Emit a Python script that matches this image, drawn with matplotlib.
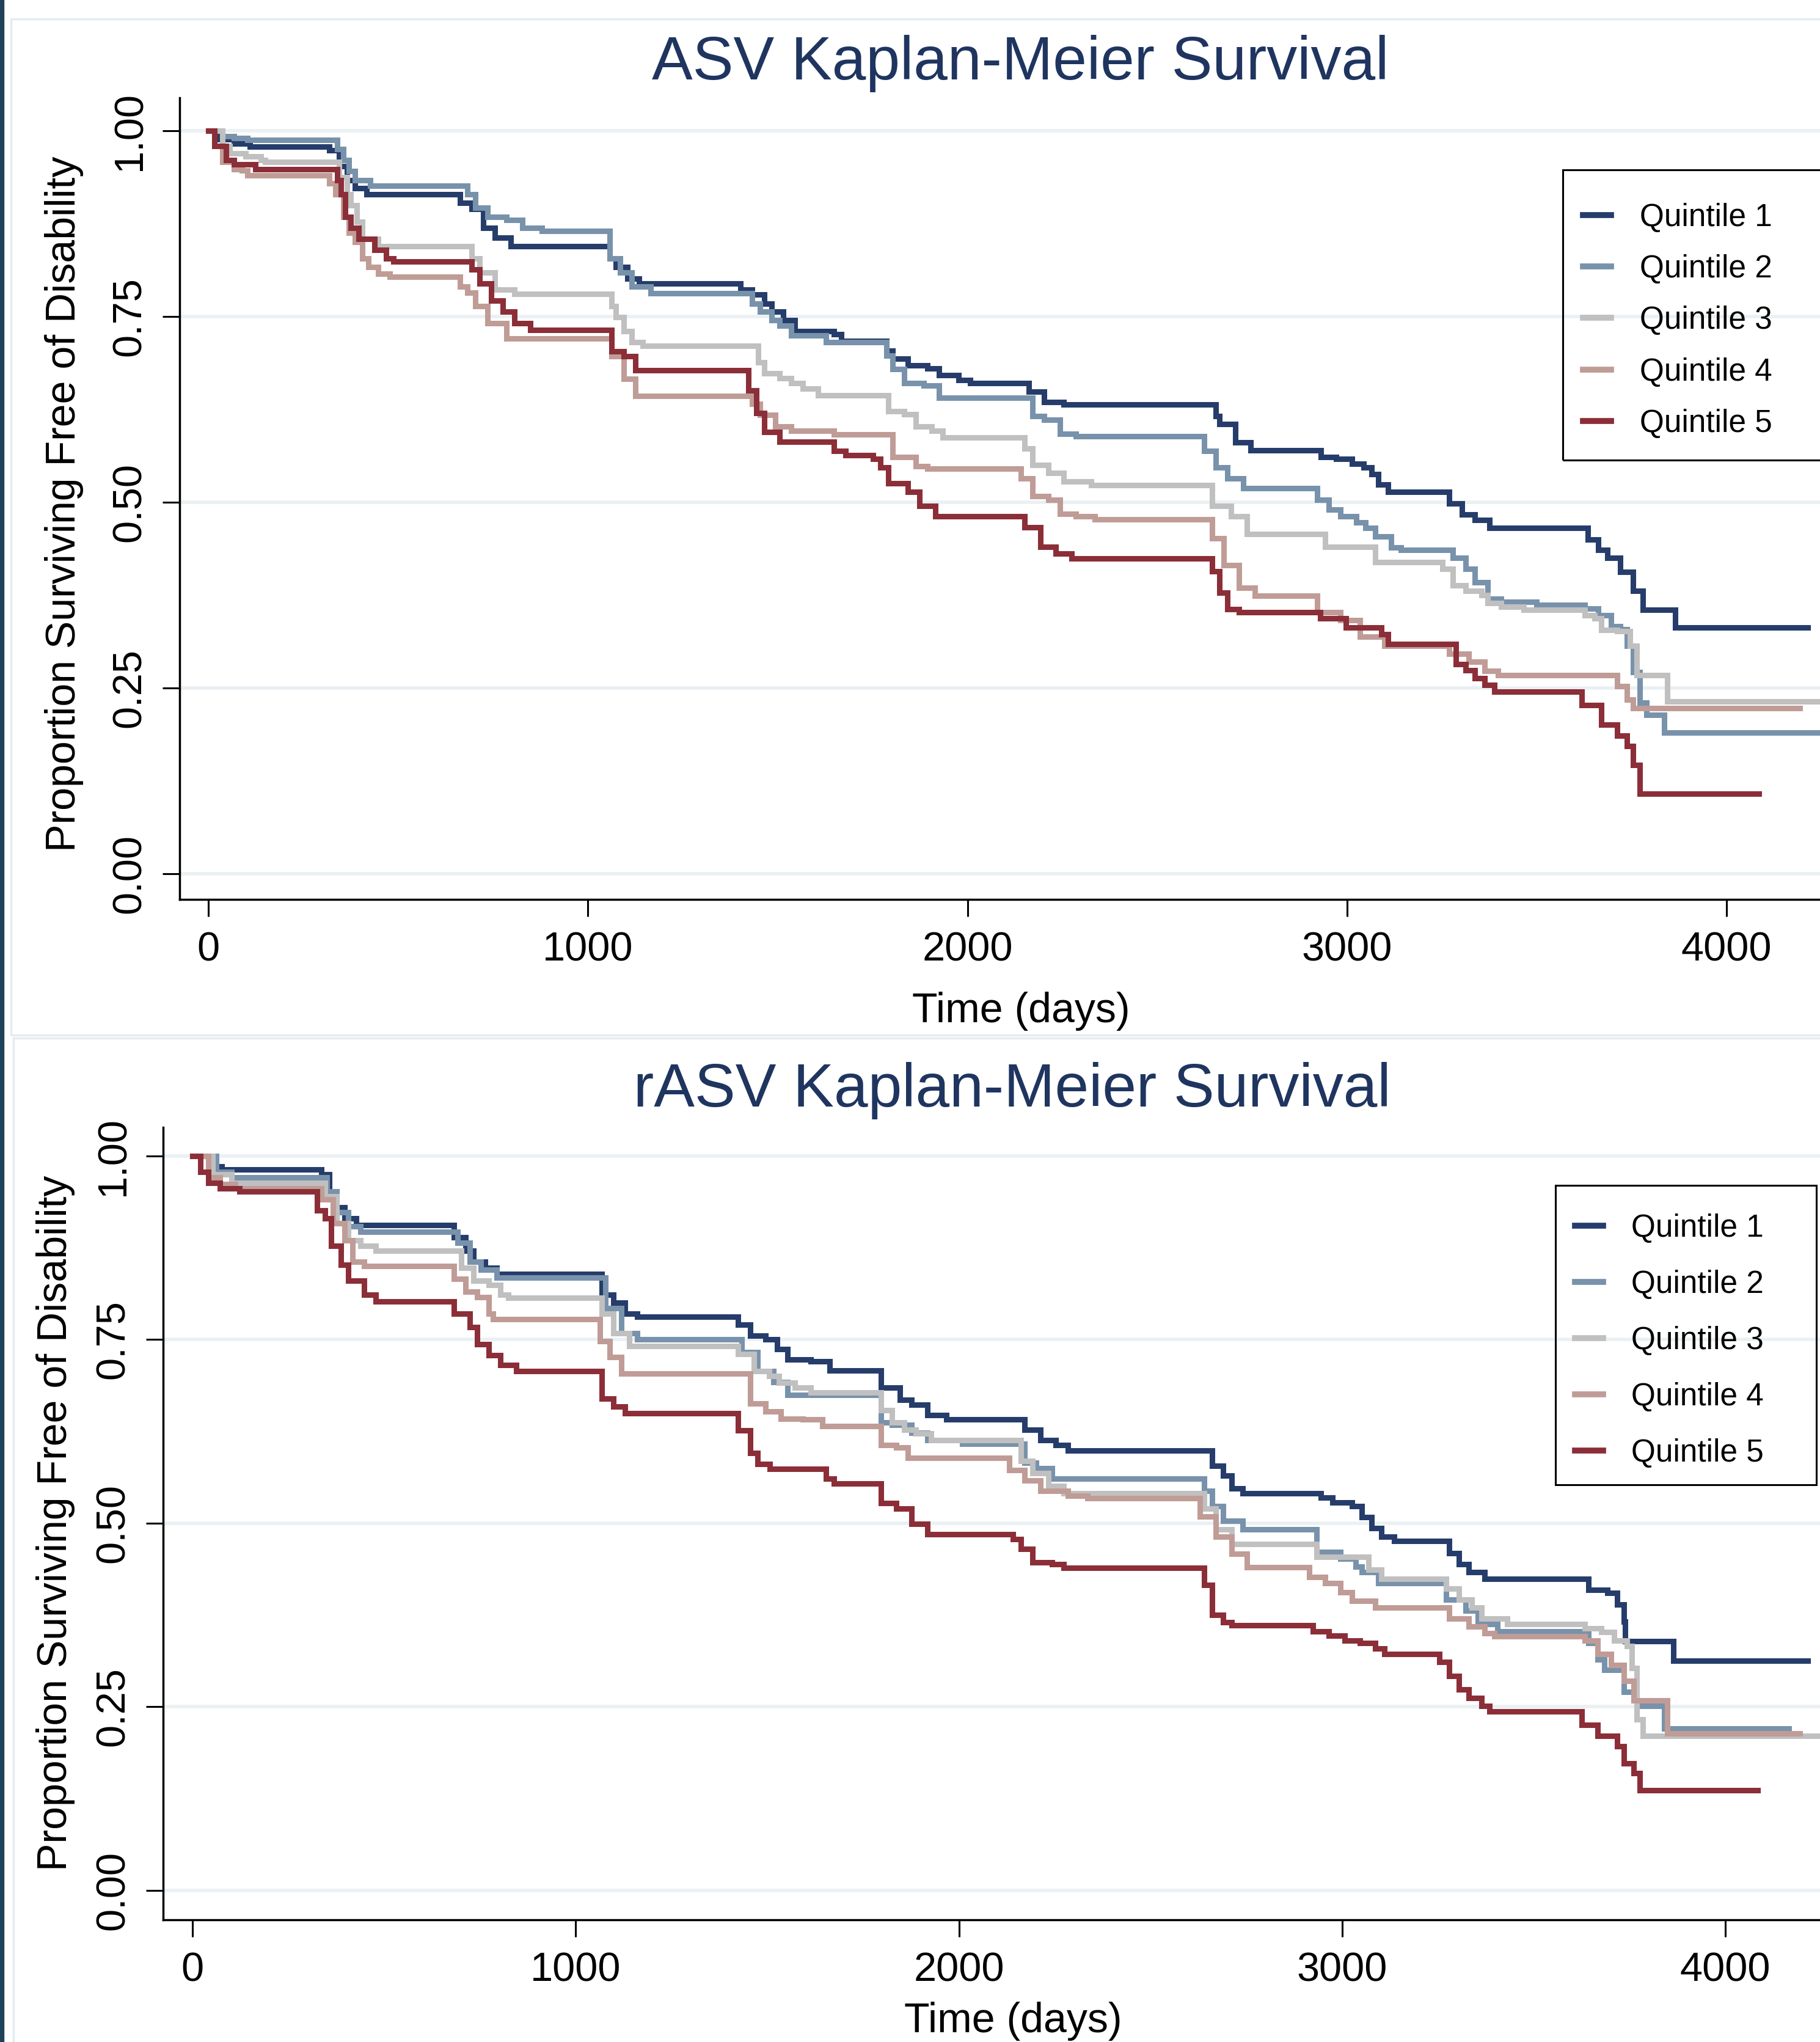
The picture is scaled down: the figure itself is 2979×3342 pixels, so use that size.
import matplotlib
matplotlib.use("Agg")
import matplotlib.pyplot as plt
from matplotlib.patches import Rectangle

plt.rcParams['font.family'] = ['Liberation Sans', 'DejaVu Sans']

# ---------------- data ----------------
quintile_labels = ["Quintile 1", "Quintile 2", "Quintile 3", "Quintile 4", "Quintile 5"]
x_ticks = [0, 1000, 2000, 3000, 4000]
y_ticks = [0.00, 0.25, 0.50, 0.75, 1.00]
y_tick_labels = ["0.00", "0.25", "0.50", "0.75", "1.00"]

# ASV panel
asv_q1_t = [0, 26, 67, 109, 319, 345, 365, 386, 417, 663, 694, 725, 755, 796, 1058, 1074, 1104, 1135,
            1402, 1433, 1464, 1484, 1515, 1545, 1648, 1668, 1787, 1802, 1843, 1894, 1925, 1977, 2007,
            2161, 2202, 2254, 2654, 2664, 2705, 2746, 2931, 2972, 3013, 3044, 3065, 3082, 3108,
            3269, 3303, 3337, 3376, 3635, 3661, 3686, 3720, 3754, 3780, 3865, 4214]
asv_q1_s = [1.0, 0.988, 0.982, 0.978, 0.973, 0.952, 0.933, 0.922, 0.914, 0.903, 0.894, 0.869, 0.856, 0.844,
            0.828, 0.816, 0.801, 0.794, 0.786, 0.779, 0.767, 0.756, 0.745, 0.730, 0.726, 0.717,
            0.704, 0.693, 0.684, 0.680, 0.671, 0.664, 0.660, 0.649, 0.635, 0.631, 0.616, 0.605, 0.580, 0.570,
            0.561, 0.558, 0.552, 0.547, 0.538, 0.524, 0.514, 0.498, 0.483, 0.476, 0.465,
            0.450, 0.436, 0.425, 0.406, 0.381, 0.355, 0.331, 0.331]

asv_q2_t = [0, 37, 67, 103, 340, 355, 370, 386, 427, 683, 704, 735, 786, 827, 878, 1058, 1084, 1115, 1166,
            1433, 1453, 1484, 1505, 1535, 1627, 1787, 1802, 1833, 1884, 1925, 2172, 2202, 2243, 2285,
            2623, 2654, 2685, 2726, 2921, 2952, 2983, 3024, 3048, 3074, 3116, 3142,
            3278, 3312, 3337, 3371, 3406, 3499, 3627, 3661, 3695, 3720, 3737, 3754, 3771, 3789, 3835, 4300]
asv_q2_s = [1.0, 0.992, 0.990, 0.987, 0.975, 0.960, 0.945, 0.933, 0.926, 0.914, 0.896, 0.884, 0.880, 0.869, 0.865,
            0.828, 0.809, 0.790, 0.781, 0.767, 0.756, 0.745, 0.737, 0.724, 0.715, 0.697, 0.679, 0.660, 0.657, 0.640,
            0.616, 0.611, 0.592, 0.589, 0.569, 0.547, 0.532, 0.519, 0.503, 0.490, 0.481, 0.473, 0.465, 0.454,
            0.439, 0.436, 0.425, 0.410, 0.392, 0.370, 0.366, 0.362, 0.357, 0.348, 0.333, 0.329, 0.307, 0.271,
            0.230, 0.214, 0.190, 0.190]

asv_q3_t = [0, 37, 57, 98, 139, 150, 345, 365, 375, 391, 406, 447, 694, 714, 755, 807, 1063, 1074, 1094, 1115,
            1145, 1448, 1464, 1505, 1535, 1566, 1607, 1792, 1833, 1864, 1905, 1935, 2151, 2172, 2213, 2254, 2326,
            2644, 2695, 2736, 2942, 3074, 3252, 3278, 3312, 3354, 3371, 3406, 3465,
            3627, 3652, 3669, 3712, 3746, 3763, 3844, 4300]
asv_q3_s = [1.0, 0.979, 0.969, 0.965, 0.960, 0.958, 0.937, 0.914, 0.899, 0.877, 0.854, 0.844, 0.828, 0.809, 0.786,
            0.780, 0.764, 0.749, 0.730, 0.715, 0.710, 0.688, 0.673, 0.667, 0.660, 0.653, 0.644, 0.622, 0.618,
            0.602, 0.596, 0.587, 0.572, 0.550, 0.539, 0.528, 0.523, 0.495, 0.481, 0.457, 0.440, 0.419,
            0.410, 0.388, 0.381, 0.375, 0.364, 0.359, 0.355, 0.348, 0.344, 0.328, 0.326, 0.307, 0.267, 0.232, 0.232]

asv_q4_t = [0, 16, 37, 67, 88, 103, 319, 334, 355, 370, 386, 406, 422, 447, 478, 663, 683, 704, 735, 786,
            1063, 1094, 1125, 1433, 1453, 1494, 1535, 1648, 1802, 1864, 1894, 2141, 2172, 2213, 2243, 2285, 2336,
            2644, 2675, 2716, 2757, 2921, 2983, 3034, 3099, 3269, 3320, 3363, 3397, 3712, 3737, 3754, 4193]
asv_q4_s = [1.0, 0.979, 0.958, 0.948, 0.946, 0.940, 0.929, 0.914, 0.884, 0.862, 0.850, 0.828, 0.816, 0.807, 0.803,
            0.790, 0.782, 0.764, 0.741, 0.720, 0.696, 0.666, 0.643, 0.632, 0.617, 0.602, 0.596, 0.591,
            0.561, 0.548, 0.545, 0.532, 0.508, 0.503, 0.484, 0.481, 0.477, 0.451, 0.415, 0.385, 0.374,
            0.352, 0.341, 0.319, 0.307, 0.296, 0.285, 0.273, 0.267, 0.252, 0.234, 0.223, 0.223]

asv_q5_t = [0, 16, 47, 67, 124, 340, 350, 360, 375, 396, 437, 468, 488, 694, 714, 745, 776, 807, 848,
            1063, 1094, 1125, 1423, 1443, 1464, 1505, 1648, 1679, 1751, 1771, 1792, 1843, 1874, 1915,
            2151, 2192, 2233, 2274, 2644, 2664, 2685, 2716, 2929, 2997, 3091, 3108,
            3286, 3312, 3337, 3363, 3388, 3618, 3669, 3712, 3737, 3754, 3771, 4085]
asv_q5_s = [1.0, 0.979, 0.960, 0.954, 0.948, 0.933, 0.914, 0.884, 0.869, 0.854, 0.839, 0.828, 0.824,
            0.813, 0.794, 0.771, 0.756, 0.741, 0.732, 0.703, 0.696, 0.677, 0.650, 0.620, 0.594, 0.581,
            0.569, 0.563, 0.558, 0.547, 0.525, 0.514, 0.495, 0.481, 0.466, 0.440, 0.431, 0.424,
            0.407, 0.378, 0.356, 0.352, 0.344, 0.331, 0.322, 0.309, 0.282, 0.274, 0.263, 0.254, 0.245,
            0.227, 0.201, 0.186, 0.172, 0.146, 0.108, 0.108]

# rASV panel
rasv_q1_t = [0, 62, 77, 336, 357, 377, 397, 428, 682, 712, 733, 763, 794, 1068, 1099, 1129, 1160,
             1424, 1455, 1495, 1526, 1552, 1613, 1663, 1796, 1846, 1877, 1918, 1968, 2172, 2213, 2253, 2284,
             2660, 2690, 2711, 2741, 2945, 2975, 3026, 3052, 3077, 3102, 3136, 3280, 3305, 3330, 3372,
             3642, 3693, 3718, 3735, 3739, 3865, 4215]
rasv_q1_s = [1.0, 0.986, 0.982, 0.975, 0.952, 0.930, 0.915, 0.906, 0.889, 0.871, 0.856, 0.848, 0.839,
             0.811, 0.800, 0.785, 0.781, 0.770, 0.755, 0.750, 0.737, 0.723, 0.720, 0.708,
             0.685, 0.668, 0.661, 0.647, 0.641, 0.627, 0.613, 0.606, 0.599, 0.578, 0.565, 0.547, 0.541,
             0.535, 0.528, 0.523, 0.508, 0.493, 0.482, 0.476, 0.459, 0.444, 0.433, 0.424,
             0.409, 0.405, 0.389, 0.366, 0.339, 0.313, 0.313]

rasv_q2_t = [0, 62, 102, 351, 377, 407, 438, 692, 723, 753, 794, 1078, 1119, 1160, 1434, 1475, 1516, 1552,
             1796, 1826, 1877, 1918, 2009, 2172, 2202, 2243, 2640, 2660, 2690, 2741, 2934, 2995, 3036, 3052, 3094,
             3271, 3322, 3355, 3406, 3642, 3667, 3684, 3735, 3768, 3840, 4165]
rasv_q2_s = [1.0, 0.978, 0.971, 0.952, 0.923, 0.904, 0.897, 0.882, 0.856, 0.845, 0.834, 0.793, 0.759, 0.750,
             0.733, 0.707, 0.692, 0.675, 0.637, 0.634, 0.623, 0.613, 0.608, 0.582, 0.575, 0.561,
             0.544, 0.523, 0.503, 0.492, 0.461, 0.452, 0.441, 0.433, 0.418, 0.396, 0.381, 0.363, 0.353,
             0.337, 0.314, 0.300, 0.270, 0.251, 0.220, 0.220]

rasv_q3_t = [0, 52, 102, 346, 377, 407, 438, 479, 702, 733, 773, 804, 824, 1068, 1099, 1140,
             1424, 1465, 1505, 1531, 1572, 1613, 1796, 1826, 1857, 1887, 1928, 2162, 2192, 2233, 2274,
             2640, 2670, 2711, 2934, 3069, 3102, 3271, 3305, 3338, 3364, 3431,
             3634, 3676, 3709, 3743, 3756, 3768, 3785, 4300]
rasv_q3_s = [1.0, 0.975, 0.963, 0.945, 0.908, 0.885, 0.878, 0.871, 0.848, 0.830, 0.824, 0.811, 0.807,
             0.785, 0.759, 0.741, 0.730, 0.707, 0.700, 0.691, 0.685, 0.678, 0.654, 0.637, 0.627, 0.622, 0.613,
             0.585, 0.568, 0.551, 0.541, 0.520, 0.492, 0.472, 0.454, 0.437, 0.424, 0.411, 0.396, 0.385,
             0.370, 0.363, 0.357, 0.352, 0.340, 0.333, 0.303, 0.233, 0.210, 0.210]

rasv_q4_t = [0, 41, 72, 112, 336, 367, 397, 418, 448, 682, 712, 743, 773, 784, 1063, 1089, 1119,
             1455, 1495, 1536, 1592, 1643, 1796, 1836, 1867, 2131, 2172, 2213, 2284, 2335,
             2629, 2670, 2711, 2751, 2914, 2955, 2995, 3026, 3086, 3280, 3330, 3372, 3398,
             3634, 3667, 3701, 3735, 3760, 3848, 4194]
rasv_q4_s = [1.0, 0.971, 0.962, 0.956, 0.941, 0.908, 0.885, 0.856, 0.850, 0.833, 0.815, 0.808, 0.785, 0.778,
             0.748, 0.726, 0.704, 0.663, 0.652, 0.642, 0.641, 0.632, 0.606, 0.603, 0.589,
             0.572, 0.558, 0.544, 0.537, 0.534, 0.509, 0.482, 0.458, 0.440, 0.427, 0.418, 0.406, 0.394, 0.385,
             0.370, 0.359, 0.350, 0.346, 0.340, 0.322, 0.307, 0.285, 0.259, 0.214, 0.214]

rasv_q5_t = [0, 21, 41, 72, 123, 326, 346, 362, 387, 407, 448, 479, 682, 723, 743, 773, 804, 845,
             1068, 1099, 1129, 1424, 1455, 1475, 1506, 1653, 1674, 1796, 1836, 1877, 1918,
             2141, 2162, 2192, 2243, 2274, 2640, 2660, 2690, 2711, 2924, 2965, 3006, 3046, 3086, 3111,
             3254, 3280, 3305, 3330, 3364, 3385, 3625, 3667, 3718, 3735, 3760, 3777, 4084]
rasv_q5_s = [1.0, 0.978, 0.963, 0.956, 0.952, 0.926, 0.915, 0.878, 0.852, 0.830, 0.811, 0.802,
             0.785, 0.767, 0.744, 0.729, 0.715, 0.707, 0.670, 0.659, 0.650, 0.626, 0.596, 0.581, 0.574,
             0.561, 0.554, 0.527, 0.520, 0.499, 0.485, 0.478, 0.465, 0.447, 0.444, 0.439,
             0.416, 0.375, 0.365, 0.361, 0.353, 0.347, 0.340, 0.337, 0.329, 0.322,
             0.311, 0.292, 0.274, 0.262, 0.251, 0.244, 0.225, 0.210, 0.196, 0.173, 0.160, 0.136, 0.136]

# ---------------- styling ----------------
colors = ["#263d6b", "#7892ab", "#c0c0c0", "#c09c97", "#8b2e38"]
title_color = "#1f3560"
grid_color = "#eaf0f3"
panel_color = "#e4ebef"

W, H = 2979, 3342
fig = plt.figure(figsize=(W / 100, H / 100), dpi=100, facecolor="white")


def fx(px):
    return px / W


def fy(py):
    return 1 - py / H


# frame decorations
fig.patches.append(Rectangle((0, 0), 6 / W, 1, transform=fig.transFigure, color="#1f4159", zorder=0))
fig.patches.append(Rectangle((fx(18), fy(1694)), (3020 - 18) / W, (1694 - 31) / H, transform=fig.transFigure,
                             fill=False, ec=panel_color, lw=2.5, zorder=0))
fig.patches.append(Rectangle((fx(22), fy(3400)), (3020 - 22) / W, (3400 - 1699) / H, transform=fig.transFigure,
                             fill=False, ec=panel_color, lw=2.5, zorder=0))

panels = [
    dict(title="ASV Kaplan-Meier Survival",
         series=[(asv_q1_t, asv_q1_s), (asv_q2_t, asv_q2_s), (asv_q3_t, asv_q3_s),
                 (asv_q4_t, asv_q4_s), (asv_q5_t, asv_q5_s)],
         ax_px=(294, 160, 2979, 1472), xlim=(-75.7, 4246), ylim=(-0.0345, 1.044),
         title_xy=(1670, 130), xlabel_xy=(1671, 1673), ylabel_xy=(123, 825),
         leg_anchor=(2591, 332), leg_spacing=0.685, leg_box=(2558, 278, 2995, 753)),
    dict(title="rASV Kaplan-Meier Survival",
         series=[(rasv_q1_t, rasv_q1_s), (rasv_q2_t, rasv_q2_s), (rasv_q3_t, rasv_q3_s),
                 (rasv_q4_t, rasv_q4_s), (rasv_q5_t, rasv_q5_s)],
         ax_px=(267, 1845, 2979, 3142), xlim=(-76.5, 4247), ylim=(-0.040, 1.039),
         title_xy=(1657, 1811), xlabel_xy=(1658, 3326), ylabel_xy=(109, 2493),
         leg_anchor=(2578, 1986), leg_spacing=0.835, leg_box=(2546, 1940, 2973, 2430)),
]

for p in panels:
    x0, y0, x1, y1 = p["ax_px"]
    ax = fig.add_axes([fx(x0), fy(y1), (x1 - x0) / W, (y1 - y0) / H])
    ax.set_facecolor("white")
    handles = []
    for (t, s), c, lab in zip(p["series"], colors, quintile_labels):
        ln, = ax.step(t, s, where="post", color=c, lw=6.5, label=lab, solid_joinstyle="miter")
        handles.append(ln)
    ax.set_xlim(*p["xlim"])
    ax.set_ylim(*p["ylim"])
    ax.set_xticks(x_ticks)
    ax.set_xticklabels([str(v) for v in x_ticks])
    ax.set_yticks(y_ticks)
    ax.set_yticklabels(y_tick_labels)
    ax.yaxis.grid(True, color=grid_color, lw=4)
    ax.xaxis.grid(False)
    ax.set_axisbelow(True)
    for side in ("top", "right"):
        ax.spines[side].set_visible(False)
    for side in ("left", "bottom"):
        ax.spines[side].set_linewidth(2.5)
        ax.spines[side].set_color("black")
    ax.tick_params(axis="both", direction="out", length=20, width=2.2, colors="black", labelsize=48)
    ax.tick_params(axis="x", pad=18)
    ax.tick_params(axis="y", pad=16)
    for lbl in ax.get_yticklabels():
        lbl.set_rotation(90)
        lbl.set_va("center")

    leg = ax.legend(handles=handles, loc="upper left",
                    bbox_to_anchor=(fx(p["leg_anchor"][0]), fy(p["leg_anchor"][1])),
                    bbox_transform=fig.transFigure, frameon=False, borderpad=0, borderaxespad=0,
                    handlelength=0.9, handletextpad=0.9, labelspacing=p["leg_spacing"], fontsize=37)
    for hl in leg.get_lines():
        hl.set_linewidth(7)
    bx0, by0, bx1, by1 = p["leg_box"]
    fig.patches.append(Rectangle((fx(bx0), fy(by1)), (bx1 - bx0) / W, (by1 - by0) / H,
                                 transform=fig.transFigure, fill=False, ec="black", lw=2.2, zorder=5))

    fig.text(fx(p["title_xy"][0]), fy(p["title_xy"][1]), p["title"], ha="center", va="baseline",
             fontsize=72, color=title_color)
    fig.text(fx(p["xlabel_xy"][0]), fy(p["xlabel_xy"][1]), "Time (days)", ha="center", va="baseline",
             fontsize=49, color="black")
    fig.text(fx(p["ylabel_xy"][0]), fy(p["ylabel_xy"][1]), "Proportion Surviving Free of Disability",
             rotation=90, rotation_mode="anchor", ha="center", va="baseline", fontsize=49, color="black")

fig.savefig("out.png", dpi=100, facecolor="white")
